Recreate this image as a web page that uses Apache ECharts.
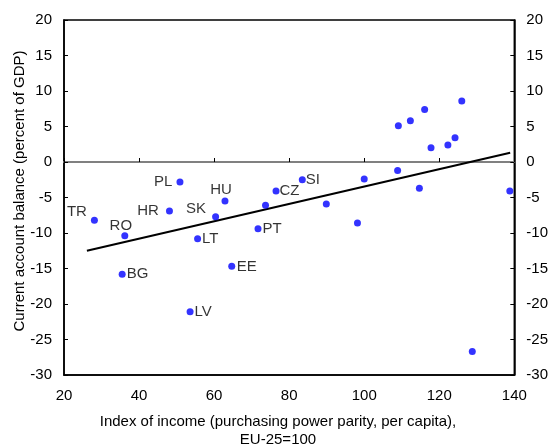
<!DOCTYPE html>
<html>
<head>
<meta charset="utf-8">
<script src="https://cdn.jsdelivr.net/npm/echarts@6/dist/echarts.min.js"></script>
<style>
  html, body { margin: 0; padding: 0; background: #fff; }
  #chart { width: 551px; height: 447px; }
</style>
</head>
<body>
<div id="chart"></div>
<script>
// Income index (EU-25 = 100) and current account balance (% of GDP) per country
var incomeIndex = [28.1, 36.2, 35.5, 48.1, 50.9, 60.4, 62.9, 55.6, 53.6, 64.7, 71.7, 73.7, 76.5, 83.5,
                   89.9, 100.0, 98.2, 108.9, 109.1, 112.3, 116.1, 114.7, 117.8, 122.3, 124.2, 126.0, 138.8, 128.8];
var currentAccount = [-8.2, -10.4, -15.8, -6.9, -2.8, -7.7, -5.5, -10.8, -21.1, -14.7, -9.4, -6.1, -4.1, -2.5,
                      -5.9, -2.4, -8.6, -1.2, 5.1, 5.8, 7.4, -3.7, 2.0, 2.4, 3.4, 8.6, -4.1, -26.7];
var countryCodes = ['TR', 'RO', 'BG', 'HR', 'PL', 'SK', 'HU', 'LT', 'LV', 'EE', 'PT', '', 'CZ', 'SI',
                    '', '', '', '', '', '', '', '', '', '', '', '', '', ''];

// Fitted regression line end points
var trendX = [26.1, 138.9];
var trendY = [-12.5, 1.3];

// Axis ranges
var xTicks = { min: 20, max: 140, step: 20 };
var yTicks = { min: -30, max: 20, step: 5 };

// Where each country code sits relative to its dot
var labelPlacement = {
  TR: { position: 'left', distance: 4, offset: [0, -8] },
  RO: { position: 'top', distance: 2, offset: [-4, 3] },
  BG: { position: 'right', distance: 1 },
  HR: { position: 'left', distance: 7 },
  PL: { position: 'left', distance: 4 },
  SK: { position: 'left', distance: 6, offset: [0, -8] },
  HU: { position: 'top', distance: 2, offset: [-4, 2] },
  LT: { position: 'right', distance: 1 },
  LV: { position: 'right', distance: 1 },
  EE: { position: 'right', distance: 1.5 },
  PT: { position: 'right', distance: 1 },
  CZ: { position: 'right', distance: 0 },
  SI: { position: 'right', distance: 0 }
};

var FONT = '"Liberation Sans", Arial, sans-serif';

var scatterData = incomeIndex.map(function (x, i) {
  var code = countryCodes[i];
  var item = { value: [x, currentAccount[i]], name: code };
  if (code) {
    var p = labelPlacement[code] || { position: 'right', distance: 1 };
    item.label = {
      show: true,
      formatter: code,
      position: p.position,
      distance: p.distance,
      offset: p.offset || [0, 0]
    };
  }
  return item;
});

var trendData = trendX.map(function (x, i) { return [x, trendY[i]]; });

var chart = echarts.init(document.getElementById('chart'), null, { renderer: 'canvas' });

var axisText = { color: '#000', fontSize: 15, fontFamily: FONT };

chart.setOption({
  animation: false,
  backgroundColor: '#fff',
  grid: {
    left: 64, right: 34, top: 20, bottom: 72,
    show: true, borderColor: '#000', borderWidth: 1.5, backgroundColor: 'transparent'
  },
  xAxis: [
    {
      type: 'value', position: 'bottom',
      min: xTicks.min, max: xTicks.max, interval: xTicks.step,
      axisLine: { show: true, onZero: false, lineStyle: { color: '#000', width: 1.5 } },
      axisTick: { show: false },
      axisLabel: Object.assign({ margin: 13 }, axisText),
      splitLine: { show: false }
    },
    {
      type: 'value', position: 'bottom',
      min: xTicks.min, max: xTicks.max, interval: xTicks.step,
      axisLine: { show: true, onZero: true, lineStyle: { color: '#808080', width: 2 } },
      axisTick: { show: true, inside: true, length: 4, lineStyle: { color: '#000', width: 1 } },
      axisLabel: { show: false },
      splitLine: { show: false }
    }
  ],
  yAxis: [
    {
      type: 'value', position: 'left',
      min: yTicks.min, max: yTicks.max, interval: yTicks.step,
      axisLine: { show: true, onZero: false, lineStyle: { color: '#000', width: 1.5 } },
      axisTick: { show: true, inside: true, length: 4, lineStyle: { color: '#000' } },
      axisLabel: Object.assign({ margin: 12 }, axisText),
      splitLine: { show: false }
    },
    {
      type: 'value', position: 'right',
      min: yTicks.min, max: yTicks.max, interval: yTicks.step,
      axisLine: { show: true, onZero: false, lineStyle: { color: '#000', width: 1.5 } },
      axisTick: { show: true, inside: true, length: 4, lineStyle: { color: '#000' } },
      axisLabel: Object.assign({ margin: 12 }, axisText),
      splitLine: { show: false }
    }
  ],
  series: [
    {
      type: 'line',
      xAxisIndex: 0, yAxisIndex: 0,
      data: trendData,
      showSymbol: false,
      symbol: 'none',
      lineStyle: { color: '#000', width: 2 },
      z: 3
    },
    {
      type: 'scatter',
      xAxisIndex: 0, yAxisIndex: 0,
      data: scatterData,
      symbol: 'circle',
      symbolSize: 7,
      itemStyle: { color: '#0000ff' },
      label: { color: '#000', fontSize: 15, fontFamily: FONT },
      z: 4
    }
  ],
  graphic: [
    {
      type: 'text',
      x: 20, y: 191,
      rotation: Math.PI / 2,
      style: {
        text: 'Current account balance (percent of GDP)',
        font: '15px ' + FONT, fill: '#000',
        align: 'center', verticalAlign: 'middle'
      }
    },
    {
      type: 'text',
      x: 278, y: 421.5,
      style: {
        text: 'Index of income (purchasing power parity, per capita),',
        font: '15px ' + FONT, fill: '#000',
        align: 'center', verticalAlign: 'middle'
      }
    },
    {
      type: 'text',
      x: 278, y: 439.5,
      style: {
        text: 'EU-25=100',
        font: '15px ' + FONT, fill: '#000',
        align: 'center', verticalAlign: 'middle'
      }
    }
  ]
});
</script>
</body>
</html>
